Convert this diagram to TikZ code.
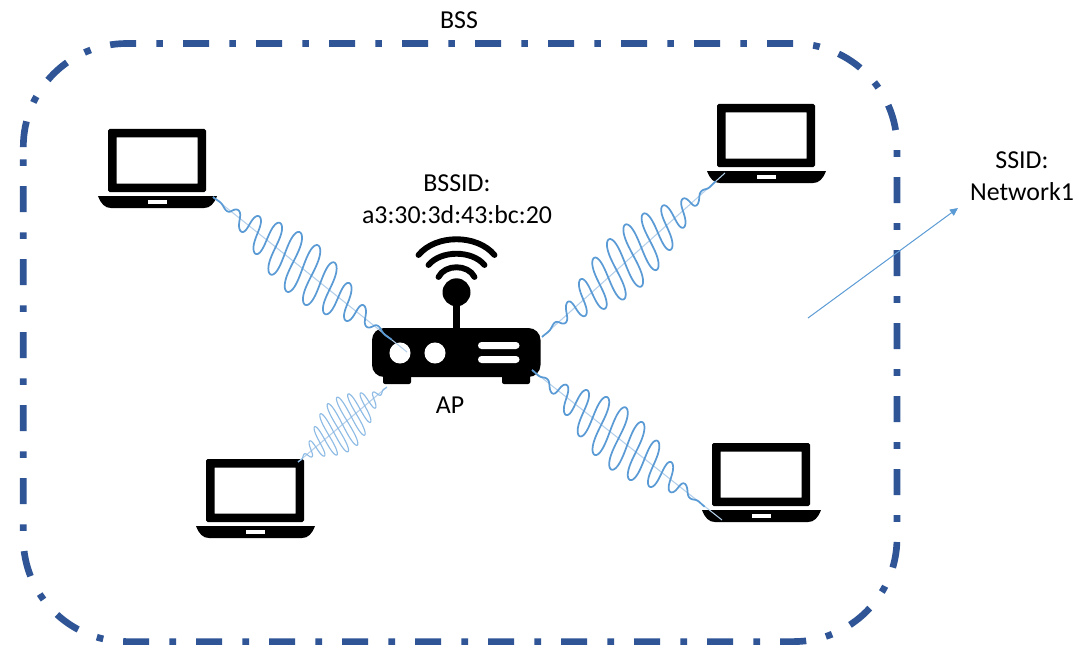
\documentclass[tikz,border=0pt]{standalone}
\usepackage{fontspec}
\setmainfont{Carlito}
\usetikzlibrary{calc,arrows.meta}
\definecolor{bssblue}{HTML}{2F5597}
\definecolor{wave}{HTML}{5B9BD5}
\definecolor{waveaxis}{HTML}{B4CFEA}
\definecolor{wavepale}{HTML}{8DBBE5}
\tikzset{
  x=0.75pt,y=-0.75pt,
  label text/.style={font=\fontsize{19.4}{23}\selectfont,align=center,text=black,inner sep=0pt},
  bss line/.style={draw=bssblue,line width=5pt,rounded corners=77.6pt,dash pattern=on 19.5pt off 15.125pt on 5pt off 15.125pt},
  wave line/.style={draw=wave,line width=1.3pt},
  pale wave/.style={draw=wavepale,line width=0.85pt},
  axis line/.style={draw=waveaxis,line width=0.8pt},
  arc stroke/.style={draw=black,line width=4.4pt,line cap=round},
  laptop/.pic={
    \fill[black,rounded corners=1.2pt,even odd rule] (0,0) rectangle (98,63) [sharp corners] (8.5,8.5) rectangle (89.5,54.5);
    \fill[black] (-10,67) -- (109,67) .. controls (106,75) and (102,79) .. (96,79) -- (3,79) .. controls (-3,79) and (-7,75) .. (-10,67) -- cycle;
    \fill[white] (40,71) rectangle (59,74.5);
  }
}
% from, to (wave), line from, line to, cycles, amplitude, ux, uy, wave style
\newcommand\wavelink[9]{%
  \draw[axis line] (#3) -- (#4);
  \pgfpointanchor{#1}{center}\pgfgetlastxy\wra\wrb
  \pgfmathsetmacro\wax{\wra}\pgfmathsetmacro\way{\wrb}%
  \pgfpointanchor{#2}{center}\pgfgetlastxy\wra\wrb
  \pgfmathsetmacro\wbx{\wra}\pgfmathsetmacro\wby{\wrb}%
  % the crests are widened along the axis by a second-harmonic term
  \pgfmathsetmacro\wcx{0.12*(\wbx-\wax)/#5}\pgfmathsetmacro\wcy{0.12*(\wby-\way)/#5}%
  \draw[#9] plot[variable=\tv,domain=0:1,samples=480,smooth]
    ({(\wax+\tv*(\wbx-\wax)+(4*\tv*(1-\tv))*(4*\tv*(1-\tv))*(0.75*#6*sin(360*#5*\tv)*(#7)-\wcx*sin(720*#5*\tv)))*1pt},
     {(\way+\tv*(\wby-\way)+(4*\tv*(1-\tv))*(4*\tv*(1-\tv))*(-0.75*#6*sin(360*#5*\tv)*(#8)-\wcy*sin(720*#5*\tv)))*1pt});
}
\begin{document}
\begin{tikzpicture}
\useasboundingbox (0,0) rectangle (1079,667);
\fill[white] (0,0) rectangle (1079,667);
% BSS boundary
\draw[bss line] (23.3,147.1) -- (23.3,43.5) -- (897,43.5) -- (897,641.6) -- (23.3,641.6) -- (23.3,147.1);
% laptops
\pic (lapUL) at (108,129) {laptop};
\pic (lapLL) at (206,459) {laptop};
\pic (lapUR) at (717,104) {laptop};
\pic (lapLR) at (712,443) {laptop};
% router
\fill[black,rounded corners=9pt] (372,328) rectangle (540.5,377);
\fill[black,rounded corners=1.5pt] (383,370) rectangle (411,384);
\fill[black,rounded corners=1.5pt] (502,370) rectangle (530,384);
\fill[white] (400,353) circle (7.9pt);
\fill[white] (435,353) circle (7.9pt);
\fill[white,rounded corners=2.6pt] (478,342) rectangle (519.5,349);
\fill[white,rounded corners=2.6pt] (478,356) rectangle (519.5,363);
\fill[black] (453.3,300) rectangle (460,330);
\fill[black] (456.5,292.3) circle (10.5pt);
\draw[arc stroke] (438.5,277) .. controls (445,264) and (468,264) .. (474.5,277);
\draw[arc stroke] (428.5,265) .. controls (441,250) and (472,250) .. (484.5,265);
\draw[arc stroke] (418.5,255) .. controls (436,234) and (477,234) .. (494.5,255);
% ports
\coordinate (ul) at (213,197); \coordinate (ulw) at (392,340); \coordinate (ulr) at (407,352);
\coordinate (ur) at (725,173); \coordinate (urw) at (716,181); \coordinate (urr) at (542,337);
\coordinate (lr) at (722,520); \coordinate (lrw) at (705,507); \coordinate (lrr) at (532,370);
\coordinate (ll) at (298,462); \coordinate (llr) at (387,387);
\wavelink{ul}{ulw}{ul}{ulr}{10}{29}{0.40}{-0.916}{wave line}
\wavelink{urr}{urw}{urr}{ur}{10.5}{30}{0.42}{0.907}{wave line}
\wavelink{lrr}{lrw}{lrr}{lr}{10}{30}{-0.40}{0.916}{wave line}
\wavelink{ll}{llr}{ll}{llr}{10}{26}{0.49}{0.87}{pale wave}
% labels
\node[label text] (bss) at (459,20) {BSS};
\node[label text] (bssid) at (457,199) {BSSID:\\[1pt]a3:30:3d:43:bc:20};
\node[label text] (ap) at (450,405) {AP};
\node[label text] (ssid) at (1022,176) {SSID:\\[1pt]Network1};
% arrow
\coordinate (arrowfrom) at (808,318);
\coordinate (arrowto) at (958,208);
\draw[draw=wave,line width=0.75pt,-{Triangle[length=6pt,width=5.5pt]}] (arrowfrom) -- (arrowto);
\end{tikzpicture}
\end{document}
